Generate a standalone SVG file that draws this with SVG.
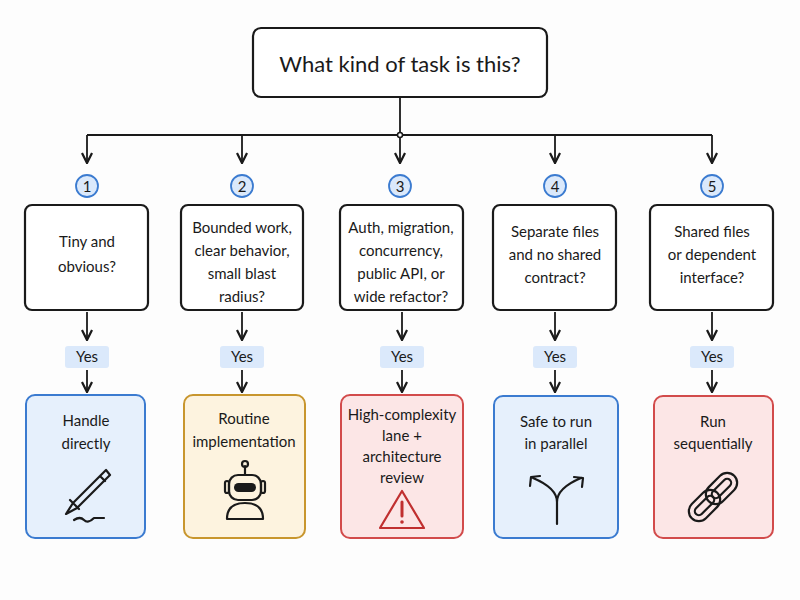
<svg xmlns="http://www.w3.org/2000/svg" width="800" height="600" viewBox="0 0 800 600">
<defs>
<marker id="ah" viewBox="0 0 10 10" refX="9" refY="5" markerWidth="7" markerHeight="7" orient="auto"><path d="M1,1 L9,5 L1,9" fill="none" stroke="#1a1a1a" stroke-width="1.8"/></marker>
<style>
text{font-family:"Lato","Liberation Sans",sans-serif;fill:#1a1a1a;text-anchor:middle}
.t{font-size:15px}
.q{fill:#fff;stroke:#1a1a1a;stroke-width:2.2}
.c{stroke:#1a1a1a;stroke-width:1.8;fill:none}
.num{fill:#dbe9fb;stroke:#3b7bd0;stroke-width:1.8}
.yes{fill:#dbe9fb}
.ic{fill:none;stroke:#1a1a1a;stroke-width:2.2;stroke-linecap:round;stroke-linejoin:round}
</style>
</defs>
<rect width="800" height="600" fill="#fdfdfd"/>
<g id="title"><rect x="253" y="28" width="294" height="69" rx="8" class="q" stroke-width="2.6"/><text x="400" y="72" font-size="22">What kind of task is this?</text></g>
<g id="connectors">
<path class="c" d="M400,97 V135 M87,135 H712"/>
<circle cx="400" cy="135" r="2.5" fill="#fff" stroke="#1a1a1a" stroke-width="1.5"/>
<path class="c" marker-end="url(#ah)" d="M87,135 V163"/>
<path class="c" marker-end="url(#ah)" d="M242,135 V163"/>
<path class="c" marker-end="url(#ah)" d="M400,137 V163"/>
<path class="c" marker-end="url(#ah)" d="M555,135 V163"/>
<path class="c" marker-end="url(#ah)" d="M712,135 V163"/>
<path class="c" marker-end="url(#ah)" d="M87,312 V340"/><path class="c" marker-end="url(#ah)" d="M87,370 V392"/>
<path class="c" marker-end="url(#ah)" d="M242,312 V340"/><path class="c" marker-end="url(#ah)" d="M242,370 V392"/>
<path class="c" marker-end="url(#ah)" d="M402,312 V340"/><path class="c" marker-end="url(#ah)" d="M402,370 V392"/>
<path class="c" marker-end="url(#ah)" d="M555,312 V340"/><path class="c" marker-end="url(#ah)" d="M555,370 V392"/>
<path class="c" marker-end="url(#ah)" d="M712,312 V340"/><path class="c" marker-end="url(#ah)" d="M712,370 V392"/>
</g>
<g id="n1">
<circle cx="87" cy="186" r="11" class="num"/><text x="87" y="192" font-size="15">1</text>
<rect x="25" y="205" width="123" height="105" rx="7" class="q"/>
<text class="t" x="87" y="247">Tiny and</text><text class="t" x="87" y="272">obvious?</text>
<rect x="65" y="346" width="44" height="22" rx="3" class="yes"/><text class="t" x="87" y="362">Yes</text>
<rect x="26" y="395" width="119" height="143" rx="9" fill="#e6f0fc" stroke="#3b7bd0" stroke-width="2"/>
<text class="t" x="86" y="426">Handle</text><text class="t" x="86" y="449">directly</text>
<path class="ic" d="M106,470 L73,503 L66,514 L77,508 L110,475 Z M70,500 L79,509 M100,476 L105,481"/>
<path class="ic" d="M74,520 Q80,516 84,520 T94,518 H104" stroke-width="1.6"/>
</g>
<g id="n2">
<circle cx="242" cy="186" r="11" class="num"/><text x="242" y="192" font-size="15">2</text>
<rect x="181" y="205" width="122" height="105" rx="7" class="q"/>
<text class="t" x="242" y="233">Bounded work,</text><text class="t" x="242" y="256">clear behavior,</text><text class="t" x="242" y="279">small blast</text><text class="t" x="242" y="302">radius?</text>
<rect x="220" y="346" width="44" height="22" rx="3" class="yes"/><text class="t" x="242" y="362">Yes</text>
<rect x="184" y="395" width="121" height="143" rx="9" fill="#fdf3df" stroke="#c8962e" stroke-width="2"/>
<text class="t" x="244" y="424">Routine</text><text class="t" x="244" y="447">implementation</text>
<path class="ic" d="M245,466 V475"/><circle cx="245" cy="464" r="3" class="ic"/>
<rect x="229" y="475" width="32" height="25" rx="9" class="ic"/>
<rect x="234" y="483" width="22" height="9" rx="4.5" fill="#1a1a1a"/>
<rect x="225" y="481" width="4" height="12" rx="2" class="ic"/><rect x="261" y="481" width="4" height="12" rx="2" class="ic"/>
<path class="ic" d="M227,519 Q227,503 245,503 Q263,503 263,519 Z"/>
</g>
<g id="n3">
<circle cx="400" cy="186" r="11" class="num"/><text x="400" y="192" font-size="15">3</text>
<rect x="340" y="205" width="123" height="105" rx="7" class="q"/>
<text class="t" x="401" y="233">Auth, migration,</text><text class="t" x="401" y="256">concurrency,</text><text class="t" x="401" y="279">public API, or</text><text class="t" x="401" y="302">wide refactor?</text>
<rect x="380" y="346" width="44" height="22" rx="3" class="yes"/><text class="t" x="402" y="362">Yes</text>
<rect x="341" y="395" width="122" height="143" rx="9" fill="#fce6e6" stroke="#d24b4b" stroke-width="2"/>
<text class="t" x="402" y="420">High-complexity</text><text class="t" x="402" y="441">lane +</text><text class="t" x="402" y="462">architecture</text><text class="t" x="402" y="483">review</text>
<path d="M402,491 L424,528 H380 Z" fill="none" stroke="#c03030" stroke-width="2.2" stroke-linejoin="round"/>
<path d="M402,502 V516" stroke="#c03030" stroke-width="3" stroke-linecap="round"/><circle cx="402" cy="522" r="1.8" fill="#c03030"/>
</g>
<g id="n4">
<circle cx="555" cy="186" r="11" class="num"/><text x="555" y="192" font-size="15">4</text>
<rect x="493" y="205" width="123" height="105" rx="7" class="q"/>
<text class="t" x="555" y="237">Separate files</text><text class="t" x="555" y="260">and no shared</text><text class="t" x="555" y="283">contract?</text>
<rect x="533" y="346" width="44" height="22" rx="3" class="yes"/><text class="t" x="555" y="362">Yes</text>
<rect x="494" y="396" width="124" height="142" rx="9" fill="#e6f0fc" stroke="#3b7bd0" stroke-width="2"/>
<text class="t" x="556" y="427">Safe to run</text><text class="t" x="556" y="449">in parallel</text>
<path class="ic" d="M557,524 V502 Q557,488 533,478 M557,502 Q557,488 581,478 M530,486 L531,477 L540,476 M574,477 L583,478 L582,487"/>
</g>
<g id="n5">
<circle cx="712" cy="186" r="11" class="num"/><text x="712" y="192" font-size="15">5</text>
<rect x="650" y="205" width="123" height="105" rx="7" class="q"/>
<text class="t" x="712" y="237">Shared files</text><text class="t" x="712" y="260">or dependent</text><text class="t" x="712" y="283">interface?</text>
<rect x="690" y="346" width="44" height="22" rx="3" class="yes"/><text class="t" x="712" y="362">Yes</text>
<rect x="654" y="396" width="119" height="142" rx="9" fill="#fce6e6" stroke="#d24b4b" stroke-width="2"/>
<text class="t" x="713" y="427">Run</text><text class="t" x="713" y="449">sequentially</text>
<g transform="rotate(-45 713 497)">
<rect x="683" y="487" width="36" height="20" rx="10" class="ic"/>
<rect x="707" y="487" width="36" height="20" rx="10" class="ic"/>
<rect x="689" y="493" width="24" height="8" rx="4" class="ic" stroke-width="1.6"/>
<rect x="713" y="493" width="24" height="8" rx="4" class="ic" stroke-width="1.6"/>
</g>
</g>
</svg>
